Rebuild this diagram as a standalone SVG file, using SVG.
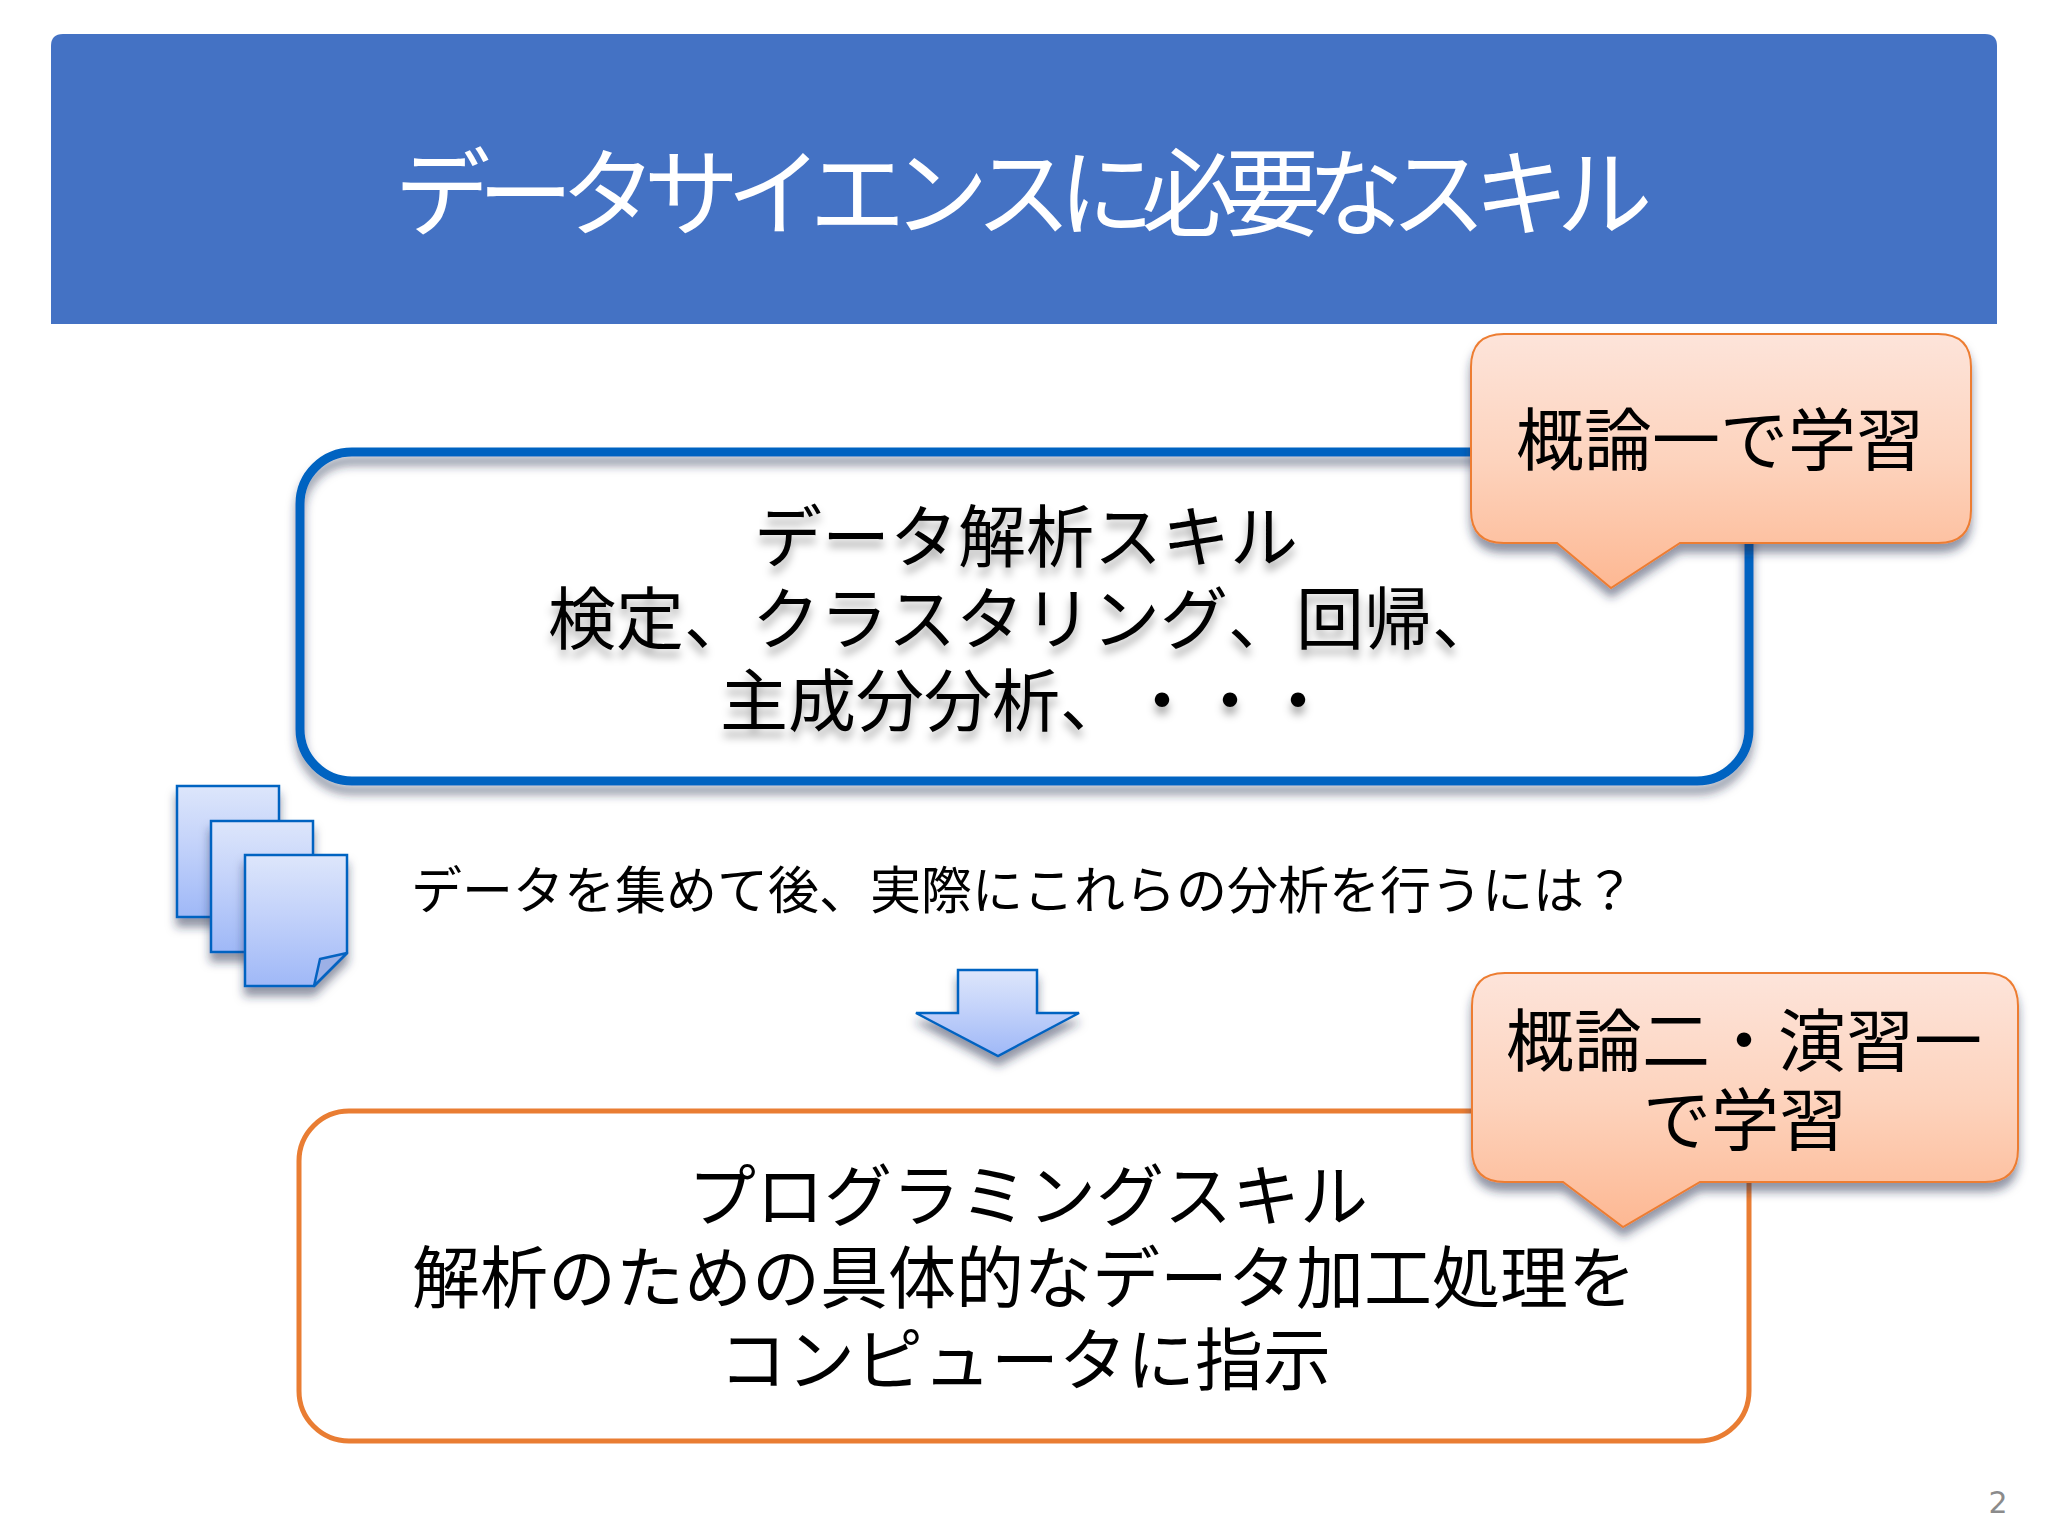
<svg xmlns="http://www.w3.org/2000/svg" width="2048" height="1536" viewBox="0 0 2048 1536">
<style>
text{font-family:"Noto Sans CJK JP","Noto Sans",sans-serif;fill:#000;text-anchor:middle;font-kerning:none;text-spacing-trim:space-all}
.big{font-size:68px}
.call{font-size:68px}
.mid{font-size:51px}
.title{font-size:96px;font-weight:400;fill:#fff;letter-spacing:-13px}
.doc{stroke:#0563c1;stroke-width:2.5;fill:url(#blueG);filter:url(#sh)}
.callout{stroke:#ed7d31;stroke-width:2;fill:url(#orG);filter:url(#sh)}
</style>
<defs>
<linearGradient id="blueG" x1="0" y1="0" x2="0" y2="1"><stop offset="0" stop-color="#dde6fb"/><stop offset="0.45" stop-color="#c3d2fa"/><stop offset="1" stop-color="#9fb8f7"/></linearGradient>
<linearGradient id="orG" x1="0" y1="0" x2="0" y2="1"><stop offset="0" stop-color="#fde4da"/><stop offset="0.5" stop-color="#fdd3bd"/><stop offset="1" stop-color="#fdb893"/></linearGradient>
<filter id="sh" x="-20%" y="-20%" width="140%" height="150%"><feDropShadow dx="0" dy="9" stdDeviation="5" flood-color="#1a2a4a" flood-opacity="0.5"/></filter>
<filter id="tsh" x="-10%" y="-20%" width="120%" height="150%"><feDropShadow dx="0" dy="8" stdDeviation="4" flood-color="#000" flood-opacity="0.32"/></filter>
</defs>
<rect width="2048" height="1536" fill="#fff"/>
<g id="banner">
<path d="M51 324V46Q51 34 63 34H1985Q1997 34 1997 46V324Z" fill="#4472c4"/>
<text class="title" x="1017" y="228">データサイエンスに必要なスキル</text>
</g>
<g id="node-analysis">
<rect x="300" y="452" width="1449" height="329" rx="52" fill="none" stroke="#0563c1" stroke-width="9" filter="url(#sh)"/>
<g filter="url(#tsh)">
<text class="big" x="1026" y="562">データ解析スキル</text>
<text class="big" x="1024" y="644">検定、クラスタリング、回帰、</text>
<text class="big" x="1026" y="726">主成分分析、・・・</text>
</g>
</g>
<g id="node-docs">
<rect class="doc" x="177" y="786" width="102" height="131"/>
<rect class="doc" x="211" y="821" width="102" height="131"/>
<path class="doc" d="M245 855H347V953L314 986H245Z"/>
<path d="M347 953L320 959L314 986Z" fill="#9cb0e6" stroke="#0563c1" stroke-width="2.5" stroke-linejoin="round"/>
</g>
<g id="node-question">
<text class="mid" x="1023" y="909">データを集めて後、実際にこれらの分析を行うには？</text>
</g>
<g id="connectors">
<path class="doc" d="M958 970H1037V1013H1079L998 1056L916 1013H958Z"/>
</g>
<g id="node-programming">
<rect x="299" y="1111" width="1450" height="330" rx="50" fill="#fff" stroke="#e97d33" stroke-width="5"/>
<text class="big" x="1028" y="1221">プログラミングスキル</text>
<text class="big" x="1024" y="1303">解析のための具体的なデータ加工処理を</text>
<text class="big" x="1025" y="1385">コンピュータに指示</text>
</g>
<g id="node-callout1">
<path class="callout" d="M1504 334H1938Q1971 334 1971 367V510Q1971 543 1938 543H1680L1611 588L1557 543H1504Q1471 543 1471 510V367Q1471 334 1504 334Z"/>
<text class="call" x="1720" y="465">概論一で学習</text>
</g>
<g id="node-callout2">
<path class="callout" d="M1505 973H1985Q2018 973 2018 1006V1149Q2018 1182 1985 1182H1700L1623 1227L1563 1182H1505Q1472 1182 1472 1149V1006Q1472 973 1505 973Z"/>
<text class="call" x="1744" y="1066">概論二・演習一</text>
<text class="call" x="1745" y="1145">で学習</text>
</g>
<g id="page-number">
<text x="1998" y="1513" style="font-family:'DejaVu Sans',sans-serif;font-size:30px;fill:#8b8b8b">2</text>
</g>
</svg>
